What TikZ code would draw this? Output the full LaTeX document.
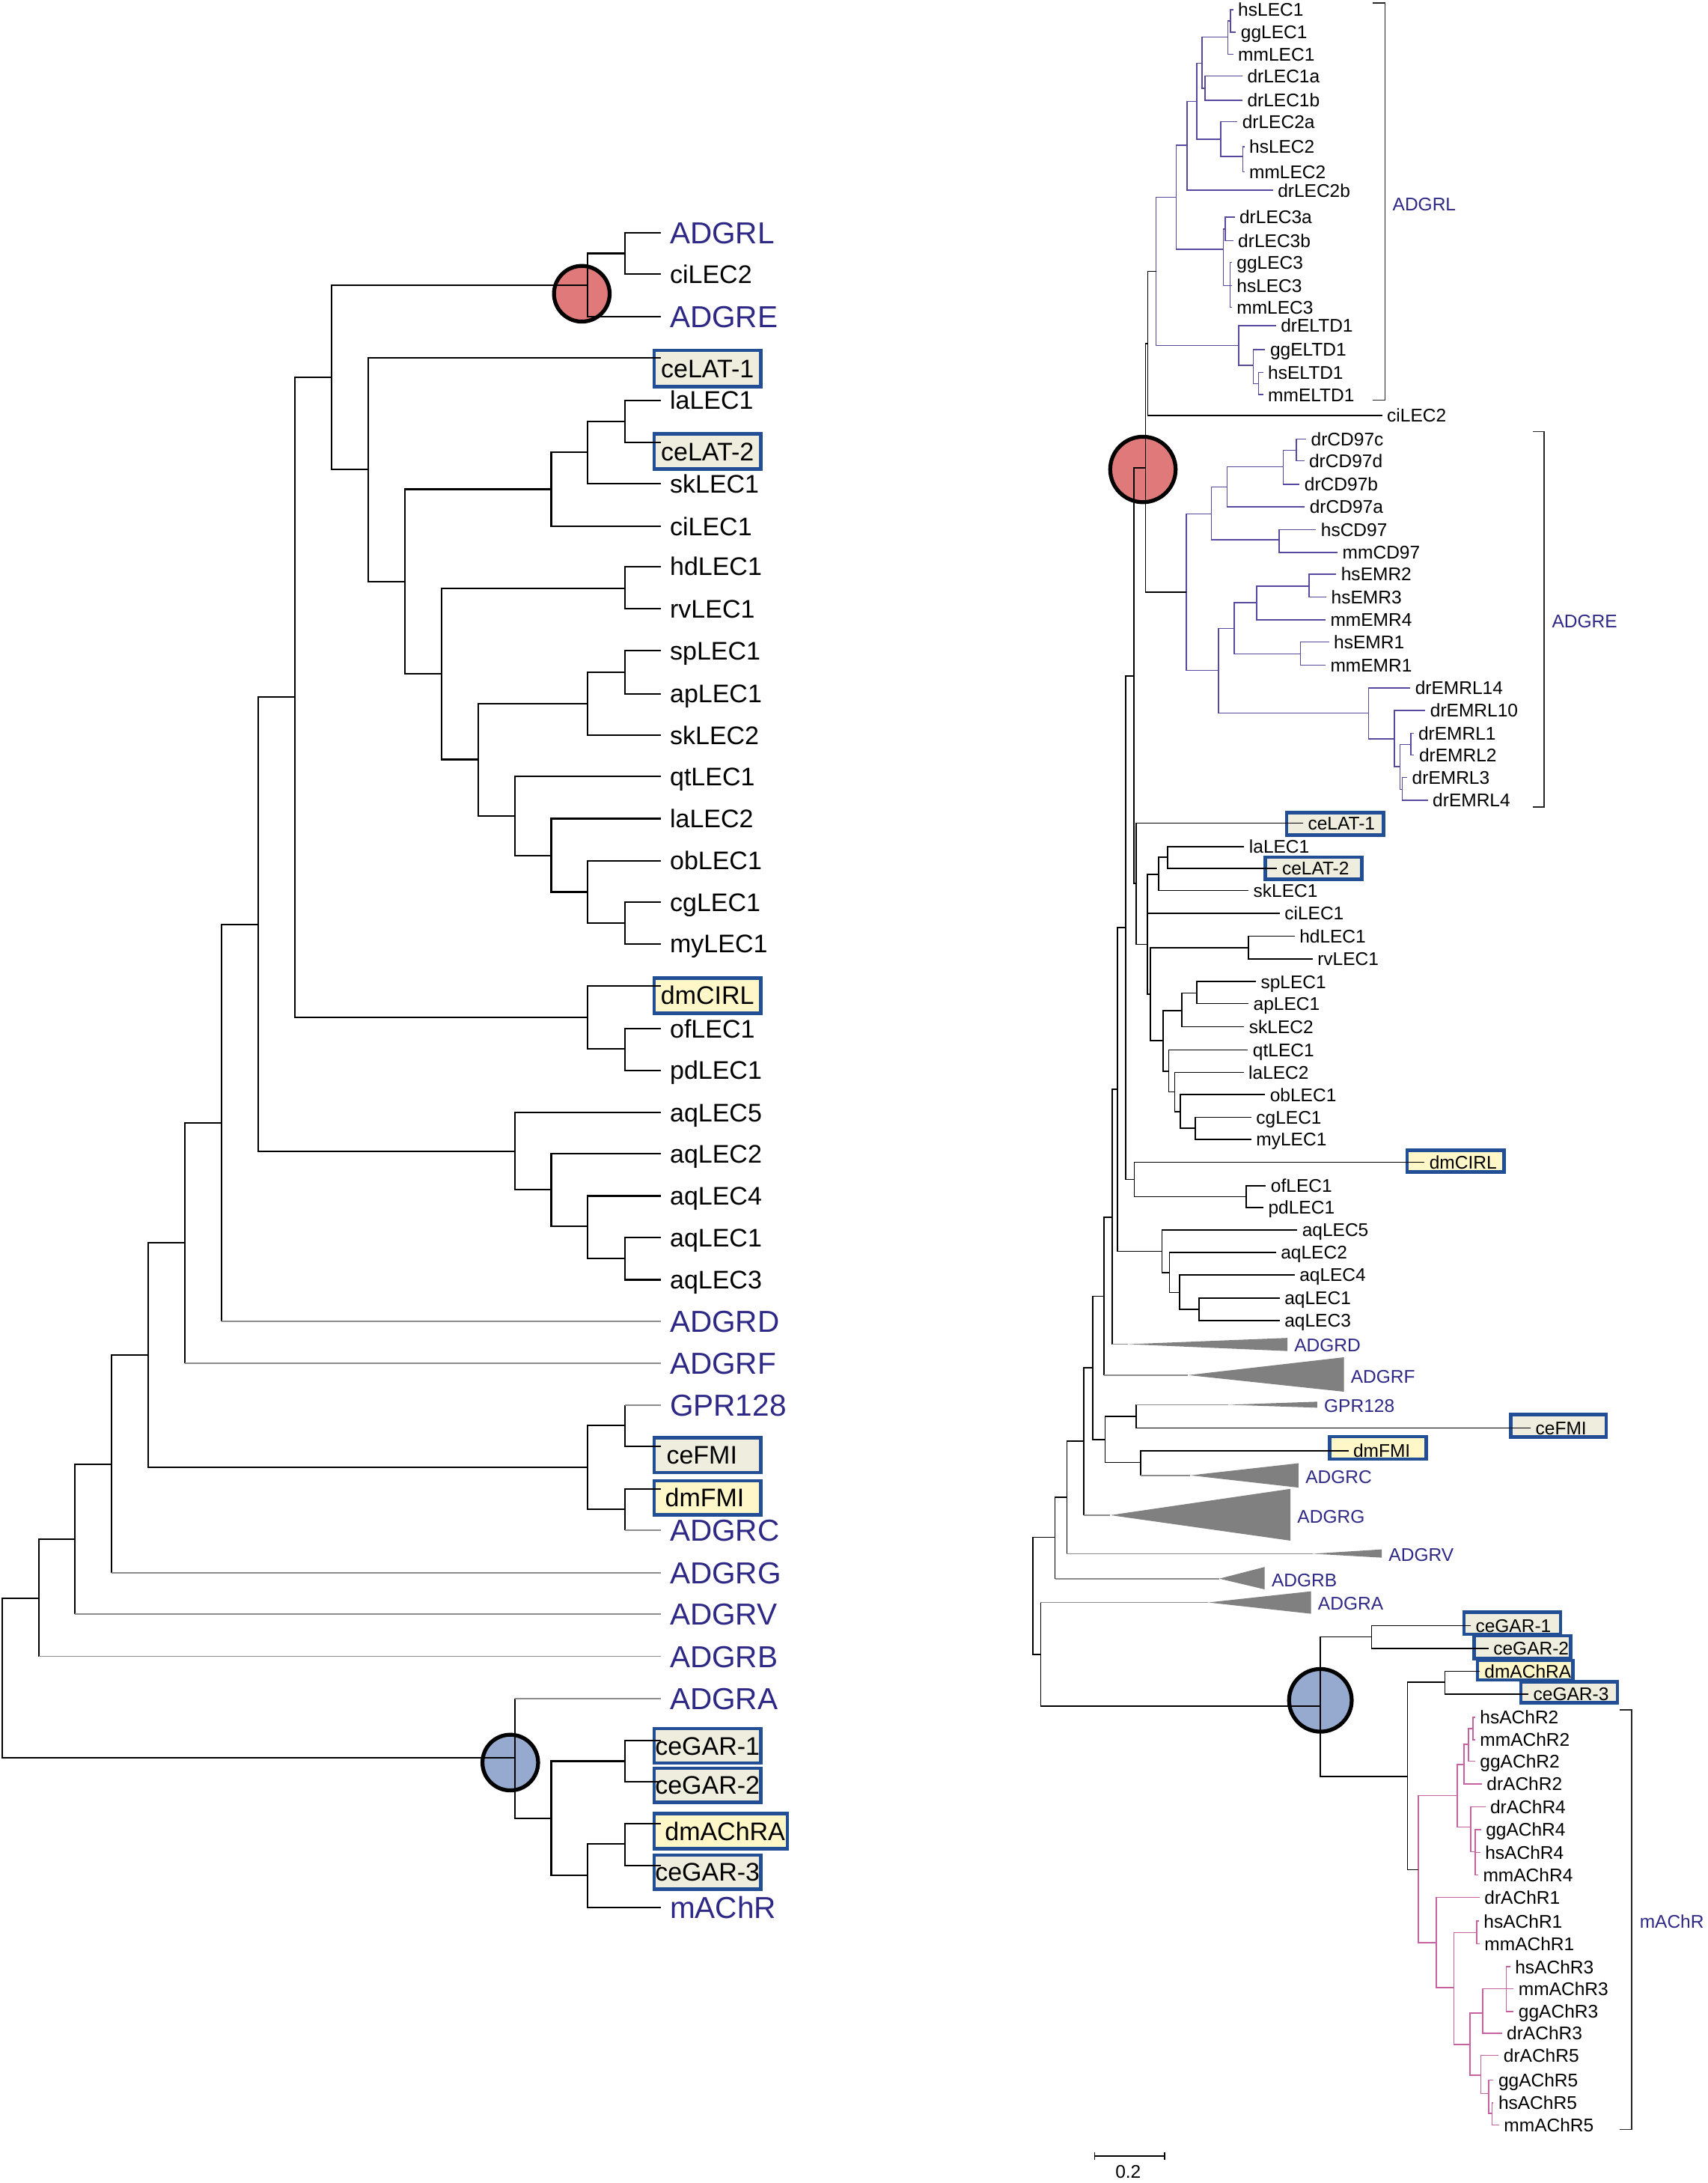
\documentclass[tikz,border=0pt]{standalone}
\usepackage{fontspec}
\setmainfont{Liberation Sans}
\usetikzlibrary{fit}
\definecolor{cladeblue}{RGB}{46,40,134}
\definecolor{lecpurple}{RGB}{88,72,160}
\definecolor{achpink}{RGB}{198,98,160}
\definecolor{boxblue}{RGB}{33,78,148}
\definecolor{cefill}{RGB}{239,238,222}
\definecolor{dmfill}{RGB}{255,247,200}
\definecolor{nodered}{RGB}{224,122,122}
\definecolor{nodeblue}{RGB}{150,169,206}
\definecolor{linegrey}{RGB}{140,140,140}
\definecolor{trigrey}{RGB}{128,128,128}
\newcommand\lblackfont{\fontsize{10.4}{12}\selectfont}
\newcommand\lbluefont{\fontsize{12.4}{14}\selectfont}
\newcommand\rsmallfont{\fontsize{7.5}{9}\selectfont}

\begin{document}
\begin{tikzpicture}[x=0.2mm, y=-0.2mm,
  br/.style={line width=0.65pt},
  brgrey/.style={line width=0.55pt, draw=linegrey},
  rbr/.style={line width=0.5pt},
  rgrey/.style={line width=0.5pt, draw=linegrey},
  lecbr/.style={line width=0.45pt, draw=lecpurple},
  achbr/.style={line width=0.45pt, draw=achpink},
  brk/.style={line width=0.5pt, draw=black!85},
  llab/.style={anchor=west, inner xsep=3.4pt, inner ysep=0pt, font=\lblackfont,
    text height=7.4pt, text depth=0pt},
  lclade/.style={llab, font=\lbluefont, text=cladeblue, text height=8.9pt},
  boxtext/.style={llab, anchor=center, inner sep=0pt},
  rlab/.style={anchor=west, inner xsep=1.8pt, inner ysep=0pt, font=\rsmallfont,
    text height=5.4pt, text depth=0pt},
  rclade/.style={rlab, text=cladeblue},
  cebox/.style={draw=boxblue, line width=1.4pt, fill=cefill, inner sep=0pt},
  dmbox/.style={cebox, fill=dmfill},
  redmark/.style={circle, draw=black, line width=1.6pt, fill=nodered, inner sep=0pt},
  bluemark/.style={redmark, fill=nodeblue}
  ]
\useasboundingbox (0,0) rectangle (1227,1568);

% marked nodes
\node[redmark, minimum size=8mm] (lred) at (418,211) {};
\node[bluemark, minimum size=8mm] (lblue) at (366.6,1266) {};
\node[redmark, minimum size=9.4mm] (rred) at (821.1,337.2) {};
\node[bluemark, minimum size=9mm] (rblue) at (948.6,1221.3) {};

% boxed genes, left tree
\foreach \t/\xa/\ya/\xb/\yb in {ceLAT-1/470/251.7/546.5/277.6, ceLAT-2/470/311.6/546.5/337,
    ceFMI/470/1032.6/546.5/1057.7, ceGAR-1/470/1241.7/546.5/1266.4,
    ceGAR-2/470/1270/546.5/1294.4, ceGAR-3/470/1332.5/546.5/1357}
  \node[cebox, fit={(\xa,\ya) (\xb,\yb)}] (lb-\t) {};
\foreach \t/\xa/\ya/\xb/\yb in {dmCIRL/470/702.4/546.5/727.7, dmFMI/470/1063.5/546.5/1088.2,
    dmAChRA/470/1302.7/565.7/1328}
  \node[dmbox, fit={(\xa,\ya) (\xb,\yb)}] (lb-\t) {};
\foreach \t/\dx in {ceLAT-1/0, ceLAT-2/0, ceFMI/-4, ceGAR-1/0, ceGAR-2/0, ceGAR-3/0,
    dmCIRL/0, dmFMI/-2, dmAChRA/3}
  \node[boxtext] (lx-\t) at ([xshift=\dx*0.2mm]lb-\t.center) {\t};

% boxed genes, right tree
\foreach \t/\xa/\ya/\xb/\yb in {ceLAT-1/924.4/583.8/994/599.9, ceLAT-2/909/615.7/978.5/631.7,
    ceFMI/1085.4/1016.1/1154/1032.3, ceGAR-1/1051.8/1158/1121.1/1173.8,
    ceGAR-2/1059.1/1174.8/1128.5/1191.4, ceGAR-3/1092.7/1207.9/1162/1222.9}
  \node[cebox, fit={(\xa,\ya) (\xb,\yb)}] (rb-\t) {};
\foreach \t/\xa/\ya/\xb/\yb in {dmCIRL/1011/826.3/1080.6/841.8, dmFMI/955.3/1031.9/1024.6/1048,
    dmAChRA/1061.4/1192.7/1130.1/1206.6}
  \node[dmbox, fit={(\xa,\ya) (\xb,\yb)}] (rb-\t) {};

% left tree leaves
\foreach \y/\t in {197/ciLEC2, 287.6/laLEC1, 347.5/skLEC1, 378/ciLEC1, 407/hdLEC1,
    437.4/rvLEC1, 467.4/spLEC1, 498.4/apLEC1, 528/skLEC2, 557.8/qtLEC1, 588/laLEC2,
    618.3/obLEC1, 648/cgLEC1, 678/myLEC1, 739/ofLEC1, 768.8/pdLEC1, 799/aqLEC5,
    828.8/aqLEC2, 859/aqLEC4, 889/aqLEC1, 919.2/aqLEC3}
  \node[llab] (l-\t) at (475,\y) {\t};
\foreach \y/\t in {167/ADGRL, 227.5/ADGRE, 949/ADGRD, 979/ADGRF, 1009.4/GPR128,
    1099/ADGRC, 1129.6/ADGRG, 1159.5/ADGRV, 1189.7/ADGRB, 1220/ADGRA, 1370.3/mAChR}
  \node[lclade] (l-\t) at (475,\y) {\t};
\foreach \y/\t in {257/ceLAT-1, 317.6/ceLAT-2, 708.4/dmCIRL, 1039/ceFMI, 1069.4/dmFMI,
    1250/ceGAR-1, 1279.8/ceGAR-2, 1310/dmAChRA, 1340/ceGAR-3}
  \coordinate (lt-\t) at (475,\y);

% left tree inner nodes
\foreach \n/\x/\y in {a1/449/182, a2/422/204.7, b1/449/302.6, b2/422/325, b3/396/351.4,
    c1/449/422.8, d1/449/483, d2/422/505.4, e1/449/662.8, e2/422/640.7, e3/396/614.4,
    e4/370/586, d3/343.7/545.5, c2/317.4/484, b4/290.7/418, b5/264.5/337, f1/449/753.5,
    f2/422/730.9, g0/238/271, g1/212/500.5, h1/449/904, h2/422/881, h3/396/854.5,
    h4/370/826.8, g2/185.5/664, g3/159/806.7, g4/133/892.5, i1/449/1024, i2/449/1084,
    i3/422/1054, g5/106.6/973.4, g6/80.3/1052, g7/54/1105.7, g8/27.8/1147.8,
    j1/449/1265, j2/449/1324.5, j3/422/1347, j4/396/1306, j5/370/1262.4, root/1.8/1205}
  \coordinate (l\n) at (\x,\y);

\foreach \p/\c in {la1/l-ADGRL, la1/l-ciLEC2, la2/la1, la2/l-ADGRE,
    lb1/l-laLEC1, lb1/lt-ceLAT-2, lb2/lb1, lb2/l-skLEC1, lb3/lb2, lb3/l-ciLEC1,
    lc1/l-hdLEC1, lc1/l-rvLEC1, ld1/l-spLEC1, ld1/l-apLEC1, ld2/ld1, ld2/l-skLEC2,
    le1/l-cgLEC1, le1/l-myLEC1, le2/l-obLEC1, le2/le1, le3/l-laLEC2, le3/le2,
    le4/l-qtLEC1, le4/le3, ld3/ld2, ld3/le4, lc2/lc1, lc2/ld3, lb4/lb3, lb4/lc2,
    lb5/lt-ceLAT-1, lb5/lb4, lg0/la2, lg0/lb5, lf1/l-ofLEC1, lf1/l-pdLEC1,
    lf2/lt-dmCIRL, lf2/lf1, lg1/lg0, lg1/lf2, lh1/l-aqLEC1, lh1/l-aqLEC3,
    lh2/l-aqLEC4, lh2/lh1, lh3/l-aqLEC2, lh3/lh2, lh4/l-aqLEC5, lh4/lh3,
    lg2/lg1, lg2/lh4, lg3/lg2, lg4/lg3, li1/lt-ceFMI, li2/lt-dmFMI, li3/li1, li3/li2,
    lg5/lg4, lg5/li3, lg6/lg5, lg7/lg6, lg8/lg7, lj1/lt-ceGAR-1, lj1/lt-ceGAR-2,
    lj2/lt-dmAChRA, lj2/lt-ceGAR-3, lj3/lj2, lj3/l-mAChR, lj4/lj1, lj4/lj3, lj5/lj4,
    lroot/lg8, lroot/lj5}
  \draw[br] (\p) |- (\c);
\foreach \p/\c in {lg3/l-ADGRD, lg4/l-ADGRF, li1/l-GPR128, li2/l-ADGRC, lg6/l-ADGRG,
    lg7/l-ADGRV, lg8/l-ADGRB, lj5/l-ADGRA}
  {\draw[br] (\p) -- (\p |- \c); \draw[brgrey] (\p |- \c) -- (\c);}

% right tree leaves
\foreach \x/\y/\t in {886/7/hsLEC1, 888/23/ggLEC1, 886/39/mmLEC1, 892.6/54.7/drLEC1a,
    892.6/72/drLEC1b, 889/87.5/drLEC2a, 894/105.4/hsLEC2, 894/123.3/mmLEC2,
    914.5/136.7/drLEC2b, 887/156/drLEC3a, 886/173/drLEC3b, 885/188.6/ggLEC3,
    885/205/hsLEC3, 885/220.8/mmLEC3, 916.7/234/drELTD1, 909/251/ggELTD1,
    907.5/267.5/hsELTD1, 907.5/283.5/mmELTD1, 993/298.4/ciLEC2,
    938.4/315.5/drCD97c, 937/331/drCD97d, 933.7/347.9/drCD97b, 937.4/364/drCD97a,
    945.5/380.3/hsCD97, 961/396.8/mmCD97, 960/412.5/hsEMR2, 952.9/428.8/hsEMR3,
    952.3/445.2/mmEMR4, 954.8/461.2/hsEMR1, 952.3/477.9/mmEMR1, 1013.2/494.2/drEMRL14,
    1024/510.3/drEMRL10, 1015.5/526.8/drEMRL1, 1016/542.3/drEMRL2, 1011/558.4/drEMRL3,
    1025.8/574.7/drEMRL4, 936.2/591.2/ceLAT-1, 893.9/608/laLEC1, 917.6/623.6/ceLAT-2,
    897/639.7/skLEC1, 919.4/655.9/ciLEC1, 930.1/672.5/hdLEC1, 943/688.7/rvLEC1,
    902.3/705.1/spLEC1, 897/720.9/apLEC1, 893.9/737.4/skLEC2, 896.6/754.2/qtLEC1,
    893.5/770.2/laLEC2, 908.9/786.3/obLEC1, 899/802.5/cgLEC1, 899/818.4/myLEC1,
    1023.4/834.9/dmCIRL, 909.5/851.6/ofLEC1, 907.7/867.4/pdLEC1, 932/883.5/aqLEC5,
    916.7/899.6/aqLEC2, 930.1/915.8/aqLEC4, 919.4/932.4/aqLEC1, 919.4/948.6/aqLEC3,
    1099.7/1025.6/ceFMI, 968.7/1042.1/dmFMI, 1056.6/1167.7/ceGAR-1,
    1069.4/1184/ceGAR-2, 1063/1200.5/dmAChRA, 1098.1/1216.8/ceGAR-3,
    1059.8/1233.4/hsAChR2, 1059.8/1249.6/mmAChR2, 1059.8/1264.9/ggAChR2,
    1064.6/1281.4/drAChR2, 1067.1/1297.7/drAChR4, 1064/1314.2/ggAChR4,
    1063.5/1330.5/hsAChR4, 1062/1346.8/mmAChR4, 1063/1362.8/drAChR1,
    1062.5/1379.9/hsAChR1, 1063/1396.2/mmAChR1, 1085/1412.7/hsAChR3,
    1087.5/1428.5/mmAChR3, 1087.5/1444.8/ggAChR3, 1079/1460.5/drAChR3,
    1076.7/1476.3/drAChR5, 1073/1494.1/ggAChR5, 1073/1510.4/hsAChR5, 1077/1526.2/mmAChR5}
  \node[rlab] (r-\t) at (\x,\y) {\t};

% collapsed families
\foreach \t/\ax/\ay/\bx/\ba/\bb in {ADGRD/810.5/965.5/924.9/961/970.4,
    ADGRF/853.6/987.7/965.5/974.9/999.6, GPR128/882.4/1009/946.3/1006.8/1011.1,
    ADGRC/855.2/1059.7/932.9/1051/1068.5, ADGRG/797.7/1088.3/927.1/1069.4/1106.6,
    ADGRV/943.1/1116/992.7/1112.9/1118.8, ADGRB/876/1133.9/908.6/1125.5/1141.6,
    ADGRA/868/1151/941.9/1143/1159.1}
  {\coordinate (ra-\t) at (\ax,\ay);
   \fill[trigrey] (ra-\t) -- (\bx,\ba) -- (\bx,\bb) -- cycle;
   \node[rclade] (r-\t) at ({\bx+1.5},{\ay+0.8}) {\t};}

% right tree inner nodes
\foreach \n/\x/\y in {n1/884/15, n2/882/26.5, n3/865.6/63.5, n4/863.5/45.4, n5/893/112.4,
    n6/877/100, n7/859.8/73, n8/852.7/104.4, n9/880.3/164.5, n10/883.6/205, n11/879/179,
    n12/845/141.8, n13/904.3/275.5, n14/900.3/262.5, n15/889.8/248.2, n16/830.6/195,
    n17/824.5/246.7, n18/823/336,
    m1/931.2/323.4, m2/922/335.3, m3/881.7/349.8, m4/918.9/387.7, m5/870.3/369.2,
    m6/940.5/421, m7/902.8/432.9, m8/934.4/469.6, m9/886.7/451.4, m10/1013.5/534.7,
    m11/1007.4/567.1, m12/1005.8/550.6, m13/1001.8/530.7, m14/983.2/512.2,
    m15/875.3/481.6, m16/852.4/425.5,
    k1/838.7/615.8, k2/832.4/628, k3/897/680.9, k4/859.7/713.2, k5/849.1/725.8,
    k6/858.9/810.5, k7/848/798.4, k8/844/784.3, k9/839.6/769.5, k10/835.5/747.3,
    k11/826.5/714.2, k12/824.4/678.3, k13/816.3/634.6, k14/895.2/859.5, k15/814.9/847.1,
    R/814.5/485.5, Q/808.7/666.3, q1/861.5/940.5, q2/847.4/928.3, q3/840.2/914,
    q4/834.8/898.7, P/802.9/782.5, S/799/874.2, T/793/931, gp/816.1/1017.2,
    df/819.5/1050.5, V/794/1034, U/785/982.5, W/778.6/1035.2, X/766.5/1075.4,
    Y/758/1104.2, Z/742/1146.3, ZA/747.6/1188.5, BN/948.6/1225.5, g12/985.3/1175.8,
    ga3/1038/1208.4, MA/1011.2/1275.9,
    a2n/1058.2/1241.5, a2m/1055/1253, a2d/1051.8/1267.5, a4n/1059.8/1330,
    a4d/1056.6/1312.2, a24/1047/1289.8, a1n/1061/1388, a3n/1082.1/1428.5,
    a3d/1065.2/1446, a5m/1072/1518, a5g/1069.4/1503.8, a5d/1063.9/1490.5,
    a35/1056/1468.4, a135/1044.4/1427.7, a1d/1032/1395.4, am/1018.9/1342.9}
  \coordinate (r\n) at (\x,\y);

% ADGRL and ADGRE clades
\foreach \p/\c in {rn1/r-hsLEC1, rn1/r-ggLEC1, rn2/rn1, rn2/r-mmLEC1, rn3/r-drLEC1a,
    rn3/r-drLEC1b, rn4/rn2, rn4/rn3, rn5/r-hsLEC2, rn5/r-mmLEC2, rn6/r-drLEC2a, rn6/rn5,
    rn7/rn4, rn7/rn6, rn8/rn7, rn8/r-drLEC2b, rn9/r-drLEC3a, rn9/r-drLEC3b,
    rn10/r-ggLEC3, rn10/r-hsLEC3, rn10/r-mmLEC3, rn11/rn9, rn11/rn10, rn12/rn8,
    rn12/rn11, rn13/r-hsELTD1, rn13/r-mmELTD1, rn14/r-ggELTD1, rn14/rn13,
    rn15/r-drELTD1, rn15/rn14, rn16/rn12, rn16/rn15,
    rm1/r-drCD97c, rm1/r-drCD97d, rm2/rm1, rm2/r-drCD97b, rm3/rm2, rm3/r-drCD97a,
    rm4/r-hsCD97, rm4/r-mmCD97, rm5/rm3, rm5/rm4, rm6/r-hsEMR2, rm6/r-hsEMR3,
    rm7/rm6, rm7/r-mmEMR4, rm8/r-hsEMR1, rm8/r-mmEMR1, rm9/rm7, rm9/rm8,
    rm10/r-drEMRL1, rm10/r-drEMRL2, rm11/r-drEMRL3, rm11/r-drEMRL4, rm12/rm10,
    rm12/rm11, rm13/r-drEMRL10, rm13/rm12, rm14/r-drEMRL14, rm14/rm13, rm15/rm9,
    rm15/rm14, rm16/rm5, rm16/rm15}
  \draw[lecbr] (\p) |- (\c);

% mAChR clade
\foreach \p/\c in {ra2n/r-hsAChR2, ra2n/r-mmAChR2, ra2m/ra2n, ra2m/r-ggAChR2,
    ra2d/ra2m, ra2d/r-drAChR2, ra4n/r-ggAChR4, ra4n/r-hsAChR4, ra4n/r-mmAChR4,
    ra4d/r-drAChR4, ra4d/ra4n, ra24/ra2d, ra24/ra4d, ra1n/r-hsAChR1, ra1n/r-mmAChR1,
    ra3n/r-hsAChR3, ra3n/r-mmAChR3, ra3n/r-ggAChR3, ra3d/ra3n, ra3d/r-drAChR3,
    ra5m/r-hsAChR5, ra5m/r-mmAChR5, ra5g/r-ggAChR5, ra5g/ra5m, ra5d/r-drAChR5,
    ra5d/ra5g, ra35/ra3d, ra35/ra5d, ra135/ra1n, ra135/ra35, ra1d/r-drAChR1,
    ra1d/ra135, ram/ra24, ram/ra1d}
  \draw[achbr] (\p) |- (\c);

% backbone
\foreach \p/\c in {rn17/rn16, rn17/r-ciLEC2, rn18/rn17, rn18/rm16, rk1/r-laLEC1,
    rk1/r-ceLAT-2, rk2/rk1, rk2/r-skLEC1, rk3/r-hdLEC1, rk3/r-rvLEC1, rk4/r-spLEC1,
    rk4/r-apLEC1, rk5/rk4, rk5/r-skLEC2, rk6/r-cgLEC1, rk6/r-myLEC1, rk7/r-obLEC1,
    rk7/rk6, rk8/r-laLEC2, rk8/rk7, rk9/r-qtLEC1, rk9/rk8, rk10/rk5, rk10/rk9,
    rk11/rk3, rk11/rk10, rk12/rk2, rk12/r-ciLEC1, rk12/rk11, rk13/r-ceLAT-1,
    rk13/rk12, rR/rn18, rR/rk13, rk14/r-ofLEC1, rk14/r-pdLEC1, rk15/r-dmCIRL,
    rk15/rk14, rQ/rR, rQ/rk15, rq1/r-aqLEC1, rq1/r-aqLEC3, rq2/r-aqLEC4, rq2/rq1,
    rq3/r-aqLEC2, rq3/rq2, rq4/r-aqLEC5, rq4/rq3, rP/rQ, rP/rq4, rS/rP, rT/rS,
    rgp/r-ceFMI, rdf/r-dmFMI, rV/rgp, rV/rdf, rU/rT, rU/rV, rW/rU, rX/rW, rY/rX,
    rg12/r-ceGAR-1, rg12/r-ceGAR-2, rga3/r-dmAChRA, rga3/r-ceGAR-3, rMA/rga3,
    rMA/ram, rBN/rg12, rBN/rMA, rZA/rBN, rZ/rY, rZ/rZA}
  \draw[rbr] (\p) |- (\c);
\foreach \p/\c in {rS/ra-ADGRD, rT/ra-ADGRF, rgp/ra-GPR128, rdf/ra-ADGRC, rW/ra-ADGRG,
    rX/ra-ADGRV, rY/ra-ADGRB, rZA/ra-ADGRA}
  {\draw[rbr] (\p) -- (\p |- \c); \draw[rgrey] (\p |- \c) -- (\c);}

% brackets
\draw[brk] (986.3,2) -| (995,287.4) -- (986.3,287.4);
\node[rclade] (br-ADGRL) at (997,146.6) {ADGRL};
\draw[brk] (1101.4,310) -| (1109.4,579.7) -- (1101.4,579.7);
\node[rclade] (br-ADGRE) at (1111.5,446.4) {ADGRE};
\draw[brk] (1163.7,1228.1) -| (1172.3,1529.6) -- (1163.7,1529.6);
\node[rclade] (br-mAChR) at (1174.5,1380.4) {mAChR};

% scale
\draw[rbr] (786.5,1545.9) -- (786.5,1551.1) (786.5,1548.5) -- (836.7,1548.5)
  (836.7,1545.9) -- (836.7,1551.1);
\node[rlab, anchor=center] (scale) at (810.5,1560) {0.2};
\end{tikzpicture}
\end{document}
